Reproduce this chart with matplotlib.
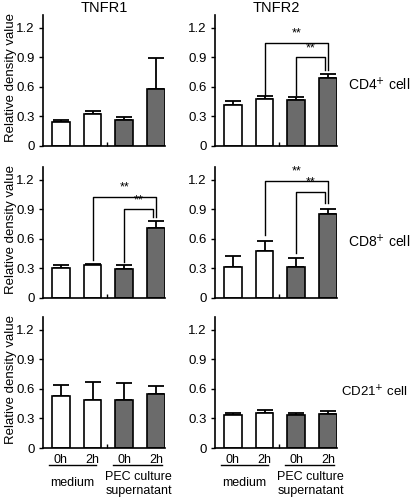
import matplotlib
matplotlib.use("Agg")
import matplotlib.pyplot as plt

plt.rcParams["font.family"] = ["Liberation Sans", "DejaVu Sans"]

# ── Data ───────────────────────────────────────────────────────────────────
conditions = ["0h", "2h", "0h", "2h"]
receptors = ["TNFR1", "TNFR2"]
cell_types = ["CD4$^{+}$ cell", "CD8$^{+}$ cell", "CD21$^{+}$ cell"]

tnfr1_cd4 = [0.24, 0.32, 0.26, 0.58]
tnfr1_cd4_err = [0.02, 0.04, 0.03, 0.31]
tnfr2_cd4 = [0.42, 0.48, 0.47, 0.69]
tnfr2_cd4_err = [0.04, 0.03, 0.03, 0.04]

tnfr1_cd8 = [0.30, 0.33, 0.29, 0.71]
tnfr1_cd8_err = [0.03, 0.02, 0.04, 0.07]
tnfr2_cd8 = [0.31, 0.48, 0.31, 0.85]
tnfr2_cd8_err = [0.12, 0.10, 0.10, 0.05]

tnfr1_cd21 = [0.53, 0.49, 0.49, 0.55]
tnfr1_cd21_err = [0.11, 0.18, 0.17, 0.08]
tnfr2_cd21 = [0.33, 0.36, 0.33, 0.35]
tnfr2_cd21_err = [0.03, 0.03, 0.03, 0.03]

values = [[tnfr1_cd4, tnfr2_cd4], [tnfr1_cd8, tnfr2_cd8], [tnfr1_cd21, tnfr2_cd21]]
errors = [[tnfr1_cd4_err, tnfr2_cd4_err], [tnfr1_cd8_err, tnfr2_cd8_err],
          [tnfr1_cd21_err, tnfr2_cd21_err]]

# significance brackets: (row, col, from bar, to bar, height, left leg, right leg)
brackets = [
    (0, 1, 1, 3, 1.05, 0.52, 0.77),
    (0, 1, 2, 3, 0.90, 0.52, 0.77),
    (1, 0, 1, 3, 1.03, 0.39, 0.82),
    (1, 0, 2, 3, 0.90, 0.37, 0.82),
    (1, 1, 1, 3, 1.19, 0.64, 0.96),
    (1, 1, 2, 3, 1.08, 0.46, 0.96),
]

GRAY = "#6b6b6b"
face = ["white", "white", GRAY, GRAY]

fig = plt.figure(figsize=(4.14, 4.98), dpi=100)

lefts = [43 / 414, 215 / 414]
bottoms = [352 / 498, 200 / 498, 50 / 498]
W, H = 122 / 414, 131 / 498
x = [0, 1, 2, 3]

axes = {}
for r in range(3):
    for c in range(2):
        ax = fig.add_axes([lefts[c], bottoms[r], W, H])
        axes[(r, c)] = ax
        ax.bar(x, values[r][c], width=0.56, color=face, edgecolor="black",
               linewidth=1.2, zorder=2)
        ax.errorbar(x, values[r][c],
                    yerr=[[0] * 4, errors[r][c]], fmt="none", ecolor="black",
                    elinewidth=1.3, capsize=5.5, capthick=1.3, zorder=1)
        ax.set_xlim(-0.56, 3.28)
        ax.set_ylim(0, 1.33)
        ax.set_yticks([0, 0.3, 0.6, 0.9, 1.2])
        ax.set_yticklabels(["0", "0.3", "0.6", "0.9", "1.2"], fontsize=9.5)
        ax.set_xticks([1.47])
        ax.set_xticklabels([])
        ax.tick_params(axis="x", direction="in", length=3, width=1)
        ax.tick_params(axis="y", direction="out", length=3, width=1, pad=3)
        for s in ["top", "right"]:
            ax.spines[s].set_visible(False)
        for s in ["left", "bottom"]:
            ax.spines[s].set_linewidth(1.2)
        if c == 0:
            ax.set_ylabel("Relative density value", fontsize=9.5)
            ax.yaxis.set_label_coords(-0.21, 0.52)
        if r == 0:
            ax.set_title(receptors[c], fontsize=10.5, pad=1)

for r, c, a, b, h, la, lb in brackets:
    ax = axes[(r, c)]
    off = 0.0 if a == 1 else -0.1
    ax.plot([a, a, b + off, b + off], [la, h, h, lb], color="black", lw=1,
            clip_on=False, zorder=3)
    ax.text((a + b + off) / 2, h + 0.03, "**", ha="center", va="bottom",
            fontsize=9)

label_x = [348 / 414, 348 / 414, 341 / 414]
label_y = [413 / 498, 256 / 498, 106 / 498]
for r, lab in enumerate(cell_types):
    fig.text(label_x[r], label_y[r], lab, fontsize=10 if r < 2 else 9.5,
             va="center", ha="left")

for c in range(2):
    ax = axes[(2, c)]
    tr = ax.get_xaxis_transform()
    for i, cond in enumerate(conditions):
        ax.text(x[i], -0.09, cond, transform=tr,
                ha="center", va="center", fontsize=9)
    for x0, x1 in [(-0.38, 1.12), (1.63, 3.2)]:
        ax.plot([x0, x1], [-0.13, -0.13], color="black", lw=1,
                transform=tr, clip_on=False)
    ax.text(0.35, -0.265, "medium", transform=tr,
            ha="center", va="center", fontsize=9)
    ax.text(2.45, -0.225, "PEC culture", transform=tr,
            ha="center", va="center", fontsize=9)
    ax.text(2.45, -0.33, "supernatant", transform=tr,
            ha="center", va="center", fontsize=9)

fig.savefig("out.png", dpi=100)
